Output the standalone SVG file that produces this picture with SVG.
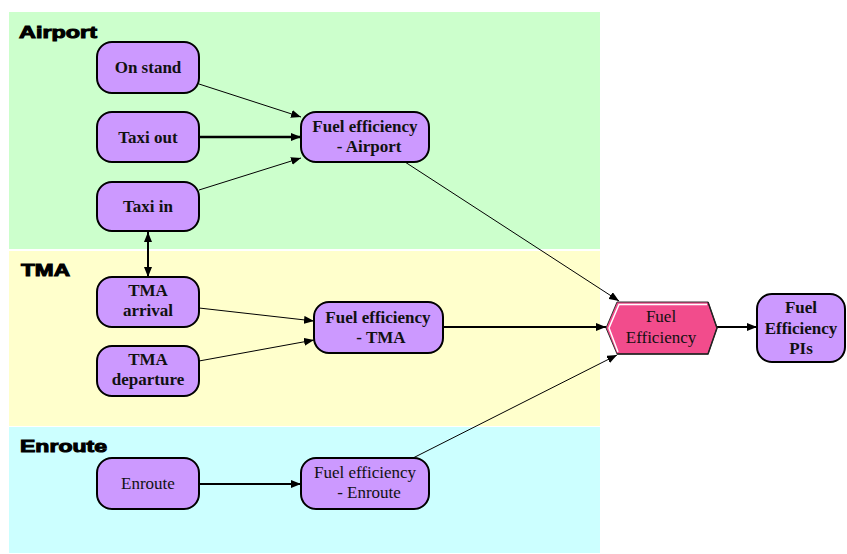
<svg xmlns="http://www.w3.org/2000/svg" width="847" height="554" viewBox="0 0 847 554">
<defs>
<marker id="arr" viewBox="0 0 10 8" refX="10" refY="4" markerWidth="10" markerHeight="8" markerUnits="userSpaceOnUse" orient="auto-start-reverse">
<path d="M0,0 L10,4 L0,8 Z" fill="#000"/>
</marker>
<style>
.zone-label{font-family:"Liberation Sans",Arial,sans-serif;font-weight:bold;font-size:17px;fill:#000;stroke:#000;stroke-width:1}
.node rect{fill:#CC99FF;stroke:#000;stroke-width:2}
.nt{font-family:"Liberation Serif","Times New Roman",serif;font-size:17px;fill:#111;text-anchor:middle;font-weight:bold}
.nt.reg{font-weight:normal}
.conn line{stroke:#000;fill:none}
.thin{stroke-width:1}
.thick{stroke-width:2}
</style>
</defs>

<!-- zones -->
<rect x="9" y="12" width="591" height="237" fill="#CCFFCC"/>
<rect x="9" y="251" width="591" height="175" fill="#FFFFCC"/>
<rect x="9" y="427" width="591" height="126" fill="#CCFFFF"/>
<text class="zone-label" x="19" y="38" textLength="78" lengthAdjust="spacingAndGlyphs">Airport</text>
<text class="zone-label" x="21" y="276" textLength="49" lengthAdjust="spacingAndGlyphs">TMA</text>
<text class="zone-label" x="20" y="452" textLength="87" lengthAdjust="spacingAndGlyphs">Enroute</text>

<!-- connectors -->
<g id="connectors" class="conn">
<line class="thin" x1="199" y1="84" x2="301" y2="117" marker-end="url(#arr)"/>
<line x1="199" y1="137" x2="301" y2="137" stroke-width="2.5" marker-end="url(#arr)"/>
<line class="thin" x1="199" y1="190" x2="301" y2="158" marker-end="url(#arr)"/>
<line class="thick" x1="148" y1="232" x2="148" y2="277" marker-start="url(#arr)" marker-end="url(#arr)"/>
<line class="thin" x1="405" y1="162" x2="619" y2="301" marker-end="url(#arr)"/>
<line class="thin" x1="199" y1="308" x2="314" y2="321" marker-end="url(#arr)"/>
<line class="thin" x1="199" y1="361" x2="314" y2="340" marker-end="url(#arr)"/>
<line class="thick" x1="443" y1="327" x2="606" y2="327" marker-end="url(#arr)"/>
<line class="thick" x1="199" y1="484" x2="301" y2="484" marker-end="url(#arr)"/>
<line class="thin" x1="413" y1="458" x2="617" y2="355" marker-end="url(#arr)"/>
<line class="thick" x1="717" y1="327" x2="757" y2="327" marker-end="url(#arr)"/>
</g>

<!-- nodes -->
<g id="on-stand" class="node">
<rect x="97" y="42" width="102" height="51" rx="15"/>
<text class="nt" x="148" y="73">On stand</text>
</g>
<g id="taxi-out" class="node">
<rect x="97" y="112" width="102" height="50" rx="15"/>
<text class="nt" x="148" y="143">Taxi out</text>
</g>
<g id="taxi-in" class="node">
<rect x="97" y="182" width="102" height="49" rx="15"/>
<text class="nt" x="148" y="212">Taxi in</text>
</g>
<g id="fe-airport" class="node">
<rect x="301" y="112" width="128" height="50" rx="15"/>
<text class="nt" x="365" y="132">Fuel efficiency</text>
<text class="nt" x="369" y="152">- Airport</text>
</g>
<g id="tma-arrival" class="node">
<rect x="97" y="277" width="102" height="50" rx="15"/>
<text class="nt" x="148" y="296">TMA</text>
<text class="nt" x="148" y="316">arrival</text>
</g>
<g id="tma-departure" class="node">
<rect x="97" y="346" width="102" height="50" rx="15"/>
<text class="nt" x="148" y="365">TMA</text>
<text class="nt" x="148" y="385">departure</text>
</g>
<g id="fe-tma" class="node">
<rect x="314" y="302" width="129" height="51" rx="15"/>
<text class="nt" x="378" y="323">Fuel efficiency</text>
<text class="nt" x="381" y="343">- TMA</text>
</g>
<g id="enroute" class="node">
<rect x="97" y="458" width="102" height="51" rx="15"/>
<text class="nt reg" x="148" y="489">Enroute</text>
</g>
<g id="fe-enroute" class="node">
<rect x="301" y="458" width="128" height="51" rx="15"/>
<text class="nt reg" x="365" y="478">Fuel efficiency</text>
<text class="nt reg" x="369" y="498">- Enroute</text>
</g>
<g id="fuel-efficiency">
<polygon points="606,328 617,302 708,302 717,328 708,354 617,354" fill="#F24C8C" stroke="#333" stroke-width="1"/>
<polyline points="618,352 609,328 619,304.5 707,304.5" fill="none" stroke="#fff" stroke-width="1.5"/>
<polyline points="708,302 717,328 708,354 617,354" fill="none" stroke="#222" stroke-width="1.5"/>
<text class="nt reg" x="661" y="322">Fuel</text>
<text class="nt reg" x="661" y="343">Efficiency</text>
</g>
<g id="fe-pis" class="node">
<rect x="757" y="294" width="88" height="68" rx="15"/>
<text class="nt" x="801" y="313">Fuel</text>
<text class="nt" x="801" y="334">Efficiency</text>
<text class="nt" x="801" y="354">PIs</text>
</g>
</svg>
